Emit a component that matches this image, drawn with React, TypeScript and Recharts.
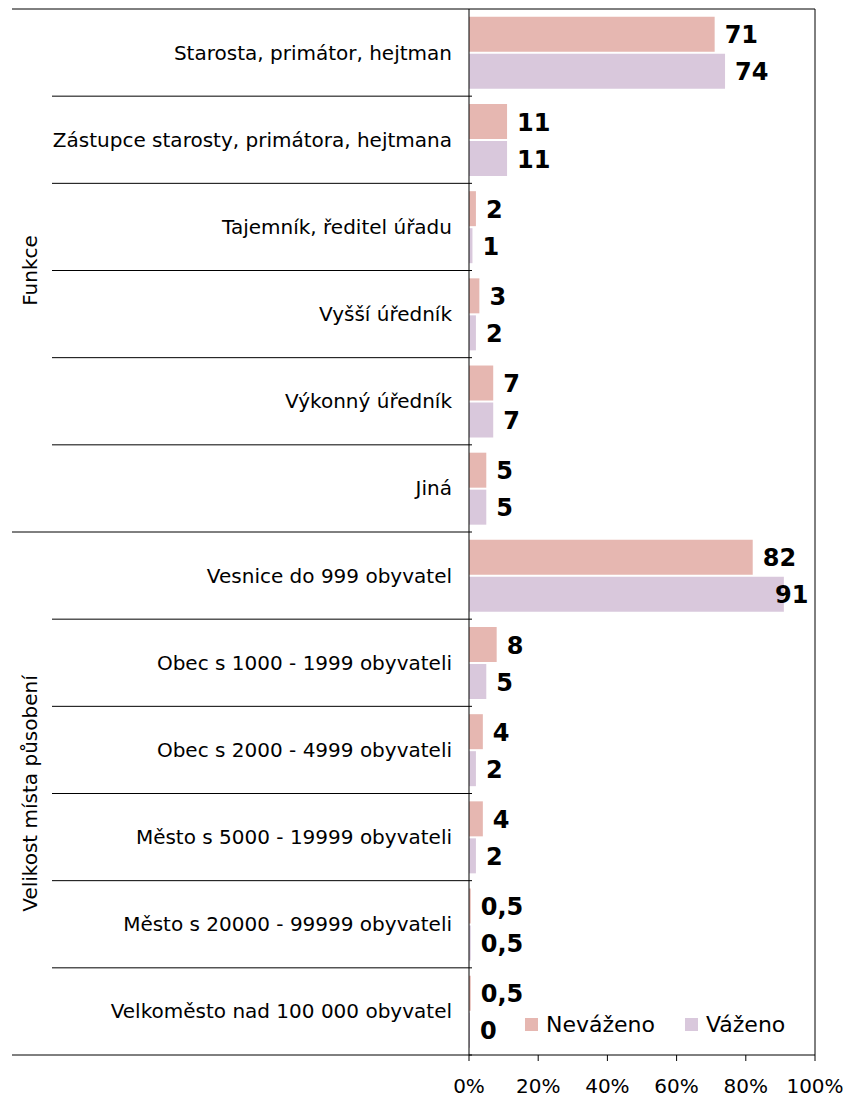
import React from "react";
import {
  BarChart,
  Bar,
  XAxis,
  YAxis,
  Legend,
  LabelList,
  ReferenceLine,
} from "recharts";

const categories = [
  "Starosta, primátor, hejtman",
  "Zástupce starosty, primátora, hejtmana",
  "Tajemník, ředitel úřadu",
  "Vyšší úředník",
  "Výkonný úředník",
  "Jiná",
  "Vesnice do 999 obyvatel",
  "Obec s 1000 - 1999 obyvateli",
  "Obec s 2000 - 4999 obyvateli",
  "Město s 5000 - 19999 obyvateli",
  "Město s 20000 - 99999 obyvateli",
  "Velkoměsto nad 100 000 obyvatel",
];

const nevazeno = [71, 11, 2, 3, 7, 5, 82, 8, 4, 4, 0.5, 0.5];
const vazeno = [74, 11, 1, 2, 7, 5, 91, 5, 2, 2, 0.5, 0];

const groups = [
  { name: "Funkce", start: 0, end: 5 },
  { name: "Velikost místa působení", start: 6, end: 11 },
];

const xTicks = [0, 20, 40, 60, 80, 100];

const COLORS = { nevazeno: "#e6b7b1", vazeno: "#d9c8dc" };
const FONT = "'DejaVu Sans', Verdana, sans-serif";

// chart geometry
const W = 843;
const H = 1098;
const TOP = 9;
const X_AXIS_H = 43;
const Y_AXIS_W = 469;
const RIGHT = 28;
const ROW_H = (H - TOP - X_AXIS_H) / categories.length;
const LEFT_EDGE = 12;
const INNER_EDGE = 52;
const LABEL_MAX_X = 808;

const data = categories.map((c, i) => ({
  category: c,
  nevazeno: nevazeno[i],
  vazeno: vazeno[i],
}));

function CategoryTick(props: any) {
  const { x, y, payload, index } = props;
  const axisX = Y_AXIS_W;
  const groupEnd = groups.some((g) => g.end === index);
  const group = groups.find((g) => g.start === index);
  const yb = y + ROW_H / 2;
  const gy = group ? y + ((group.end - group.start) / 2) * ROW_H : 0;
  return (
    <g>
      {index === 0 && (
        <line
          x1={LEFT_EDGE}
          x2={W - RIGHT}
          y1={y - ROW_H / 2}
          y2={y - ROW_H / 2}
          stroke="#000"
        />
      )}
      <line
        x1={groupEnd ? LEFT_EDGE : INNER_EDGE}
        x2={axisX + 3}
        y1={yb}
        y2={yb}
        stroke="#000"
      />
      <text
        x={x}
        y={y}
        textAnchor="end"
        dominantBaseline="central"
        fontSize={20}
        fill="#000"
      >
        {payload.value}
      </text>
      {group && (
        <text
          x={37}
          y={gy}
          transform={`rotate(-90, 37, ${gy})`}
          textAnchor="middle"
          fontSize={20}
          fill="#000"
        >
          {group.name}
        </text>
      )}
    </g>
  );
}

function ValueLabel(props: any) {
  const { x, y, width, height, value } = props;
  const text = String(value).replace(".", ",");
  const textW = text.length * 16.5;
  let lx = Number(x) + Number(width) + 10;
  if (lx + textW > LABEL_MAX_X) lx = LABEL_MAX_X - textW;
  return (
    <text
      x={lx}
      y={Number(y) + Number(height) / 2 + 9}
      fontSize={24}
      fontWeight="bold"
      fill="#000"
    >
      {text}
    </text>
  );
}

function LegendContent() {
  const items = [
    { name: "Neváženo", color: COLORS.nevazeno },
    { name: "Váženo", color: COLORS.vazeno },
  ];
  return (
    <div style={{ display: "flex", fontFamily: FONT, fontSize: 22 }}>
      {items.map((it, i) => (
        <div
          key={it.name}
          style={{
            display: "flex",
            alignItems: "center",
            marginLeft: i === 0 ? 0 : 30,
          }}
        >
          <span
            style={{
              display: "inline-block",
              width: 13,
              height: 13,
              background: it.color,
              marginRight: 8,
            }}
          />
          <span>{it.name}</span>
        </div>
      ))}
    </div>
  );
}

export default function App() {
  return (
    <div
      style={{
        position: "absolute",
        left: 0,
        top: 0,
        width: W,
        height: H,
        background: "#fff",
        fontFamily: FONT,
      }}
    >
      <BarChart
        width={W}
        height={H}
        data={data}
        layout="vertical"
        margin={{ top: TOP, right: RIGHT, bottom: 0, left: 0 }}
        barCategoryGap="9%"
        barGap={2}
      >
        <XAxis
          type="number"
          domain={[0, 100]}
          ticks={xTicks}
          tickFormatter={(v) => `${v}%`}
          height={X_AXIS_H}
          tickSize={6}
          tickMargin={18}
          axisLine={{ stroke: "#000" }}
          tickLine={{ stroke: "#000" }}
          tick={{ fill: "#000", fontSize: 20 }}
        />
        <YAxis
          type="category"
          dataKey="category"
          width={Y_AXIS_W}
          tickLine={false}
          tickSize={6}
          tickMargin={11}
          axisLine={{ stroke: "#000" }}
          tick={<CategoryTick />}
          interval={0}
        />
        <ReferenceLine x={100} stroke="#000" />
        <Legend
          layout="vertical"
          verticalAlign="middle"
          align="center"
          content={<LegendContent />}
          wrapperStyle={{ left: 525, top: 1012, width: 290, height: 34 }}
        />
        <Bar
          dataKey="nevazeno"
          name="Neváženo"
          fill={COLORS.nevazeno}
          isAnimationActive={false}
        >
          <LabelList dataKey="nevazeno" content={<ValueLabel />} />
        </Bar>
        <Bar
          dataKey="vazeno"
          name="Váženo"
          fill={COLORS.vazeno}
          minPointSize={1}
          isAnimationActive={false}
        >
          <LabelList dataKey="vazeno" content={<ValueLabel />} />
        </Bar>
      </BarChart>
    </div>
  );
}
